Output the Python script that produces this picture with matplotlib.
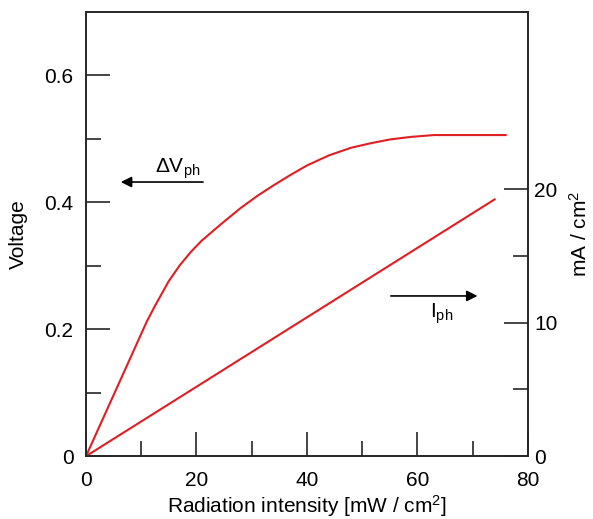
import matplotlib
matplotlib.use('Agg')
import matplotlib.pyplot as plt
from matplotlib.ticker import MultipleLocator, FixedLocator

plt.rcParams['font.family'] = ['Liberation Sans', 'DejaVu Sans']
plt.rcParams['mathtext.fontset'] = 'custom'
plt.rcParams['mathtext.rm'] = 'Liberation Sans'
plt.rcParams['mathtext.it'] = 'Liberation Sans'

# photovoltage curve (left axis)
intensity_v = [0, 11, 12.5, 15, 17, 19, 21, 24.5, 28, 31, 34, 37, 40, 44, 48, 51.5, 55, 58.7, 63, 76]
voltage = [0, 0.212, 0.237, 0.276, 0.301, 0.322, 0.340, 0.366, 0.391, 0.410, 0.427, 0.443, 0.458,
           0.474, 0.486, 0.493, 0.499, 0.503, 0.506, 0.506]

# photocurrent line (right axis)
intensity_i = [0, 74]
current = [0, 19.25]

red = '#e01e24'
frame = '#262626'

fig = plt.figure(figsize=(5.93, 5.19), dpi=100)
ax = fig.add_axes([0.145, 0.121, 0.745, 0.856])
ax2 = ax.twinx()

ax.plot(intensity_v, voltage, color=red, lw=1.5)
ax2.plot(intensity_i, current, color=red, lw=1.5)

ax.set_xlim(0, 80)
ax.set_ylim(0, 0.7)
ax2.set_ylim(0, 33.3)

ax.xaxis.set_major_locator(MultipleLocator(20))
ax.xaxis.set_minor_locator(MultipleLocator(10))
ax.yaxis.set_major_locator(FixedLocator([0, 0.2, 0.4, 0.6]))
ax.yaxis.set_minor_locator(FixedLocator([0.1, 0.3, 0.5]))
ax2.yaxis.set_major_locator(FixedLocator([0, 10, 20]))
ax2.yaxis.set_minor_locator(FixedLocator([5, 15]))

ax.yaxis.set_major_formatter(plt.FuncFormatter(lambda v, p: '0' if v == 0 else f'{v:.1f}'))

ax.tick_params(axis='both', which='both', direction='in', top=False, right=False,
               color=frame, width=1.2, labelsize=15)
ax.tick_params(axis='both', which='major', length=17)
ax.tick_params(axis='both', which='minor', length=11)
ax.tick_params(axis='x', which='major', pad=11)
ax.tick_params(axis='y', which='major', pad=9)
ax2.tick_params(axis='y', which='both', direction='in', color=frame, width=1.2,
                labelsize=15, pad=4.5)
ax2.tick_params(axis='y', which='major', length=17)
ax2.tick_params(axis='y', which='minor', length=11)

for a in (ax, ax2):
    for s in a.spines.values():
        s.set_color(frame)
        s.set_linewidth(1.2)

ax.set_xlabel('Radiation intensity [mW / cm$^2$]', fontsize=15, labelpad=2)
ax.set_ylabel('Voltage', fontsize=15, labelpad=12)
ax2.set_ylabel('mA / cm$^2$', fontsize=15, labelpad=8)

# arrows and labels
ax.annotate('', xy=(5.8, 0.432), xytext=(21.7, 0.432),
            arrowprops=dict(arrowstyle='-|>', color='black', lw=1.2, mutation_scale=16))
ax.text(12.5, 0.447, r'$\Delta$V$_{\mathrm{ph}}$', fontsize=15, ha='left', va='baseline')
ax.annotate('', xy=(71.4, 0.2525), xytext=(54.7, 0.2525),
            arrowprops=dict(arrowstyle='-|>', color='black', lw=1.2, mutation_scale=16))
ax.text(62.3, 0.219, r'I$_{\mathrm{ph}}$', fontsize=15, ha='left', va='baseline')

fig.savefig('out.png', dpi=100)
